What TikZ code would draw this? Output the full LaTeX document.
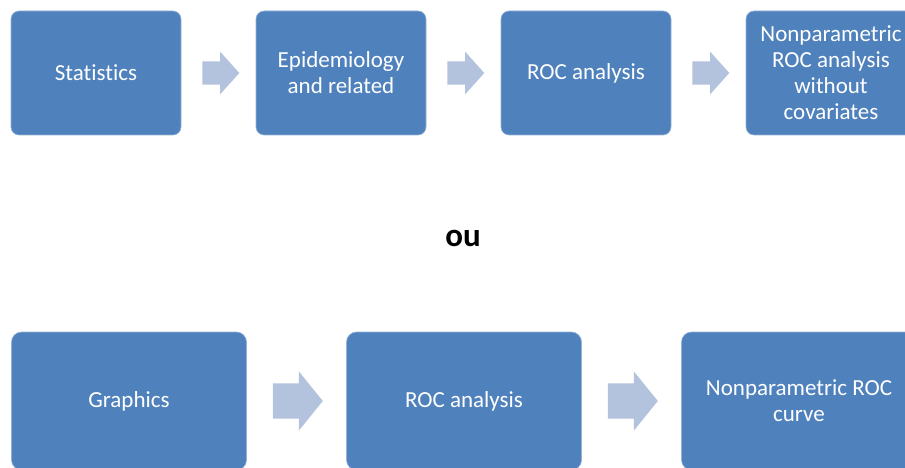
\documentclass[tikz,border=0pt]{standalone}
\usepackage{fontspec}
\setmainfont[Ligatures=NoCommon]{Carlito}
\usepackage{xcolor}
\usepackage{tikz}
\usetikzlibrary{arrows.meta,positioning,shapes.arrows}

\definecolor{boxblue}{RGB}{79,129,189}
\definecolor{arrowblue}{RGB}{179,194,221}

\begin{document}
\begin{tikzpicture}[
    x=1pt, y=-1pt,
    stepbox/.style={rectangle, rounded corners=8pt, draw=boxblue!60!white, line width=0.6pt,
        fill=boxblue, text=white, align=center, inner sep=2pt,
        font=\fontsize{23}{26}\selectfont},
    topbox/.style={stepbox, minimum width=170pt, minimum height=124pt},
    lowbox/.style={stepbox, minimum width=235pt, minimum height=138pt, rounded corners=10pt},
    blockarrow/.style={single arrow, fill=arrowblue, draw=none, inner xsep=0pt, outer sep=0pt},
    toparrow/.style={blockarrow, minimum height=37pt, inner ysep=11.5pt,
        single arrow head extend=9.5pt, single arrow tip angle=96},
    lowarrow/.style={blockarrow, minimum height=50pt, inner ysep=17.5pt,
        single arrow head extend=12pt, single arrow tip angle=102}
]
    \useasboundingbox (0,0) rectangle (905,468);
    \clip (0,0) rectangle (905,468);

    % Top row
    \node[topbox] (stat) at (96,73) {Statistics};
    \node[topbox] (epi) at (341,73) {Epidemiology\\and related};
    \node[topbox] (roc) at (586,73) {ROC analysis};
    \node[topbox] (nproc) at (831,73) {Nonparametric\\ROC analysis\\without\\covariates};

    % Top arrows
    \node[toparrow, right=21pt of stat] (ta1) {};
    \node[toparrow, right=21pt of epi] (ta2) {};
    \node[toparrow, right=21pt of roc] (ta3) {};

    % Separator
    \node[font=\fontsize{33}{38}\selectfont\bfseries] (ou) at (463,238) {ou};

    % Bottom row
    \node[lowbox] (graph) at (129,401) {Graphics};
    \node[lowbox] (roclow) at (464,401) {ROC analysis};
    \node[lowbox] (curve) at (799,401) {Nonparametric ROC\\curve};

    % Bottom arrows
    \node[lowarrow, right=26pt of graph] (la1) {};
    \node[lowarrow, right=26pt of roclow] (la2) {};

\end{tikzpicture}
\end{document}
